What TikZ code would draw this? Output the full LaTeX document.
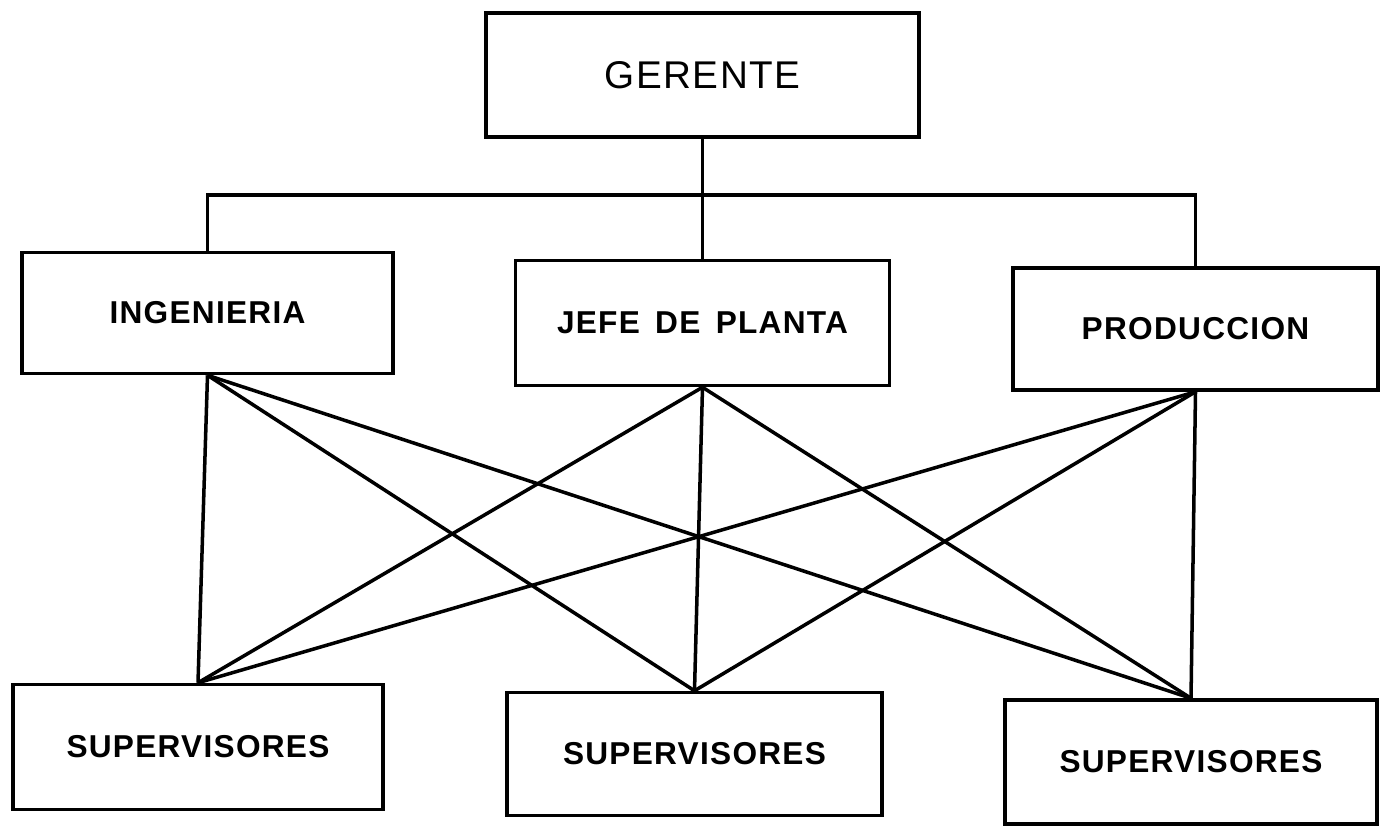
\documentclass[tikz,border=0pt]{standalone}
\usepackage{fontspec}
\setmainfont{Liberation Sans}
\newfontfamily\boxfont[LetterSpace=4]{Liberation Sans}
\usepackage{tikz}

\tikzset{
	cargo/.style={draw, line width=1pt, minimum width=3.71cm, minimum height=1.23cm, inner sep=0pt, font=\boxfont\fontsize{9}{11}\selectfont\bfseries},
	linea/.style={line width=1pt}
}

\begin{document}
\begin{tikzpicture}
			%%%%% START %%%%%
			\useasboundingbox (0, 0) rectangle (13.8, -8.27);
			
			\node[cargo, minimum width=4.33cm, minimum height=1.24cm, font=\boxfont\fontsize{11}{13}\selectfont] (gerente) at (7.025, -0.75) {GERENTE};
			
			\node[cargo, minimum height=1.21cm] (ing) at (2.075, -3.13) {INGENIERIA};
			\node[cargo, minimum width=3.74cm, minimum height=1.25cm] (jefe) at (7.025, -3.23) {JEFE \,DE \,PLANTA};
			\node[cargo, minimum width=3.65cm, minimum height=1.22cm] (prod) at (11.955, -3.29) {PRODUCCION};
			
			\node[cargo, minimum width=3.70cm, minimum height=1.25cm] (sup1) at (1.98, -7.47) {SUPERVISORES};
			\node[cargo, minimum width=3.75cm] (sup2) at (6.945, -7.54) {SUPERVISORES};
			\node[cargo, minimum width=3.72cm, minimum height=1.24cm] (sup3) at (11.91, -7.62) {SUPERVISORES};
			
			% barra de mando
			\coordinate (barra) at (7.025, -1.95);
			\draw[linea] (gerente.south) -- (jefe.north);
			\draw[linea] (ing.north) |- (barra) -| (prod.north);
			
			% cruces hacia supervisores
			\foreach \a in {ing, jefe, prod}
				\foreach \b in {sup1, sup2, sup3}
					\draw[linea] (\a.south) -- (\b.north);
			
			%%%%% END %%%%%
		\end{tikzpicture}
\end{document}
